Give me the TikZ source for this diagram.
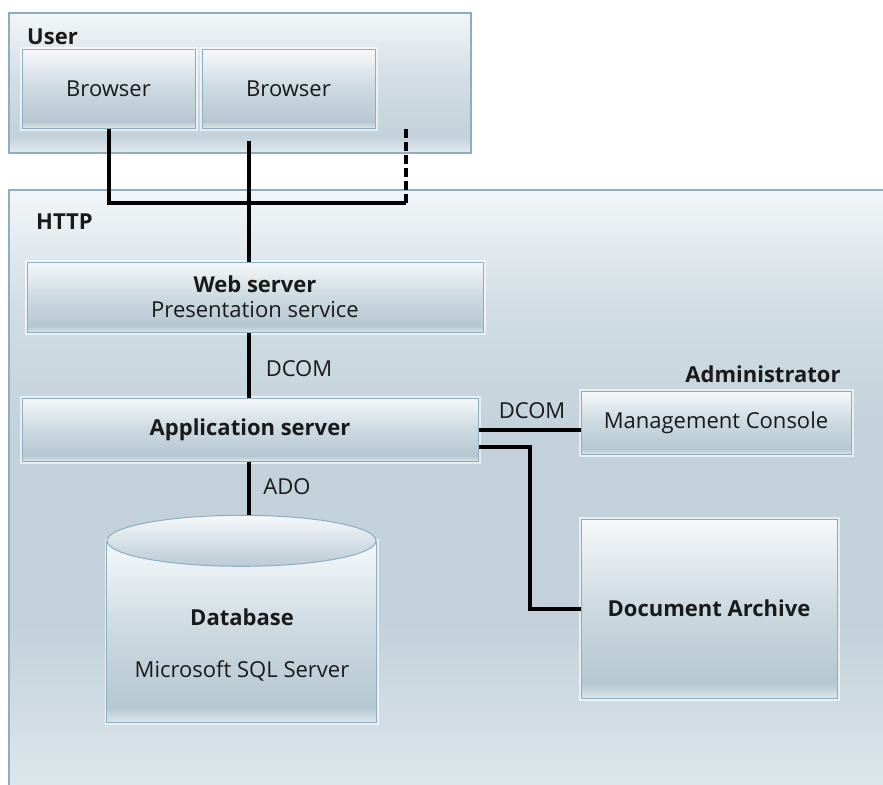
\documentclass[tikz,border=0pt]{standalone}
\usepackage{fontspec}
\setmainfont{Open Sans}
\definecolor{edge}{HTML}{8DADC0}
\definecolor{ink}{HTML}{1A1A1A}
\definecolor{boxtop}{HTML}{F6F8FA}
\definecolor{boxmid}{HTML}{CCD9E0}
\definecolor{boxlow}{HTML}{B6C7D1}
\definecolor{boxband}{HTML}{DCE5EA}
\definecolor{grptop}{HTML}{F3F6F8}
\definecolor{grpmid}{HTML}{D3DEE4}
\definecolor{grplow}{HTML}{C2D1DA}
\definecolor{grpband}{HTML}{E2E9ED}
\pgfdeclareverticalshading{boxfill}{100bp}{color(0bp)=(boxband); color(25bp)=(boxband); color(29bp)=(boxlow); color(50bp)=(boxmid); color(75bp)=(boxtop); color(100bp)=(boxtop)}
\pgfdeclareverticalshading{grpfill}{100bp}{color(0bp)=(grpband); color(25bp)=(grpband); color(31bp)=(grplow); color(52bp)=(grpmid); color(75bp)=(grptop); color(100bp)=(grptop)}
\pgfdeclareverticalshading{httpfill}{100bp}{color(0bp)=(grpband); color(25bp)=(grpband); color(40bp)=(grplow); color(55bp)=(grplow); color(66bp)=(grpmid); color(75bp)=(grptop); color(100bp)=(grptop)}
\tikzset{
  box/.style={draw=edge, line width=1pt, shading=boxfill, text=ink, inner sep=0pt,
    preaction={draw=white, line width=5pt, draw opacity=0.6}, font=\fontsize{22}{27}\selectfont},
  group/.style={draw=edge, line width=1.2pt, inner sep=0pt},
  title/.style={anchor=west, text=ink, inner sep=0pt, font=\bfseries\fontsize{22}{27}\selectfont},
  proto/.style={text=ink, inner sep=0pt, font=\fontsize{22}{27}\selectfont},
  wire/.style={line width=4pt},
}
\begin{document}
\begin{tikzpicture}[x=1pt, y=-1pt]
    \clip (0,0) rectangle (883,784);
    \node [group, shading=grpfill, minimum width=462pt, minimum height=140pt] (user) at (240,83) {};
    \node [group, shading=httpfill, minimum width=891pt, minimum height=620pt] (http) at (454.5,500) {};
    \node [title] (usertitle) at (27,37) {User};
    \node [title] (httptitle) at (36,222) {HTTP};
    \node [box, minimum width=173pt, minimum height=78pt] (br1) at (108.5,89) {Browser};
    \node [box, minimum width=173pt, minimum height=78pt] (br2) at (288.5,89) {Browser};
    \node [box, minimum width=456pt, minimum height=70pt, align=center] (web) at (255,297)
        {\textbf{Web server}\\[-2pt]Presentation service};
    \node [box, minimum width=456pt, minimum height=63pt, font=\bfseries\fontsize{22}{27}\selectfont] (app) at (250,429.5) {Application server};
    \node [box, minimum width=270pt, minimum height=63pt] (mgmt) at (716,422.5) {Management Console};
    \node [title, anchor=center] (admin) at (763,374) {Administrator};
    \node [box, minimum width=256pt, minimum height=179pt, font=\bfseries\fontsize{22}{27}\selectfont] (doc) at (709,608.5) {Document Archive};
    \node [shading=boxfill, minimum width=269pt, minimum height=181pt, inner sep=0pt,
        preaction={draw=white, line width=5pt, draw opacity=0.6}] (db) at (241.5,631.5) {};
    \draw [edge, line width=1pt] (db.north west) -- (db.south west) -- (db.south east) -- (db.north east);
    \draw [draw=edge, line width=1pt, top color=boxtop, bottom color=boxlow!80!boxmid] (db.north) ellipse [x radius=134.5pt, y radius=25.5pt];
    \coordinate (dbtop) at ([yshift=25.5pt]db.north);
    \node [title, anchor=center] (dbname) at (242,617) {Database};
    \node [proto] (dbsub) at (242,671) {Microsoft SQL Server};
    \coordinate (tap) at (249,141);
    \coordinate (more) at (406,128);
    \coordinate (bus) at (406,203);
    \draw [wire] (br1.south) |- (bus);
    \draw [wire, dash pattern=on 9pt off 4pt] (bus) -- (more);
    \draw [wire] (tap) -- (tap |- web.north);
    \draw [wire] (web.south -| tap) -- (app.north -| tap);
    \draw [wire] (app.south -| tap) -- (tap |- dbtop);
    \draw [wire] (app.east) -- (app.east -| mgmt.west);
    \draw [wire] ([yshift=-17.5pt]app.east) -- ++(51,0) |- (doc.west);
    \node [proto] (dcomweb) at (299,369) {DCOM};
    \node [proto] (dcomadmin) at (532,411) {DCOM};
    \node [proto] (ado) at (287,487) {ADO};
\end{tikzpicture}
\end{document}
